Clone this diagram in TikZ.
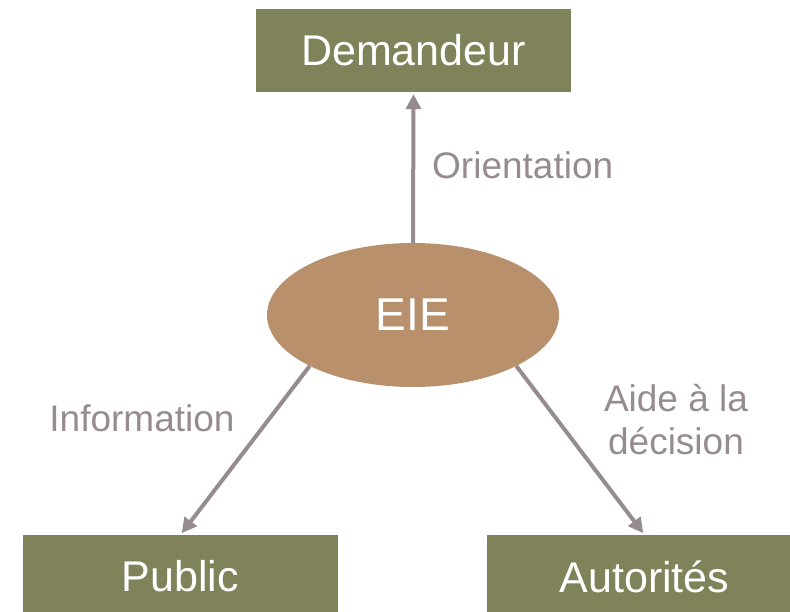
\documentclass[tikz,border=0pt]{standalone}
\usepackage{fontspec}
\setmainfont{Liberation Sans}
\usetikzlibrary{shapes.geometric,arrows.meta}

\definecolor{boxgreen}{RGB}{128,131,90}
\definecolor{eiebrown}{RGB}{184,144,108}
\definecolor{linegray}{RGB}{150,140,141}

\begin{document}
\begin{tikzpicture}[x=1pt,y=-1pt,
    box/.style={fill=boxgreen, text=white, minimum width=315pt, minimum height=83pt,
        inner sep=0pt, font=\fontsize{43}{51}\selectfont},
    lbl/.style={text=linegray, inner sep=0pt, font=\fontsize{37}{43}\selectfont},
    arr/.style={draw=linegray, line width=4pt, shorten >=2pt,
        -{Triangle[length=15pt,width=15pt]}}]
% Frame
\useasboundingbox (0,0) rectangle (790,612);
\clip (0,0) rectangle (790,612);

% Boxes
\node[box] (dem) at (413.5,50.5) {Demandeur};
\node[box] (pub) at (180.5,576.5) {Public};
\node[box] (aut) at (644.5,576.5) {Autorités};

% Centre ellipse
\node[ellipse, fill=eiebrown, text=white, minimum width=292pt, minimum height=144pt,
    inner sep=0pt, font=\fontsize{46}{55}\selectfont] (eie) at (413,315) {EIE};

% Arrows from the ellipse
\foreach \from/\to in {north/dem.south, south west/pub.north, south east/aut.north} {
    \draw[arr] (eie.\from) -- (\to);
}

% Arrow labels
\node[lbl, anchor=west] (orient) at (432,165) {Orientation};
\node[lbl] (info) at (142,418) {Information};
\node[lbl, align=center] (aide) at (676,420) {Aide à la\\décision};
\end{tikzpicture}
\end{document}
